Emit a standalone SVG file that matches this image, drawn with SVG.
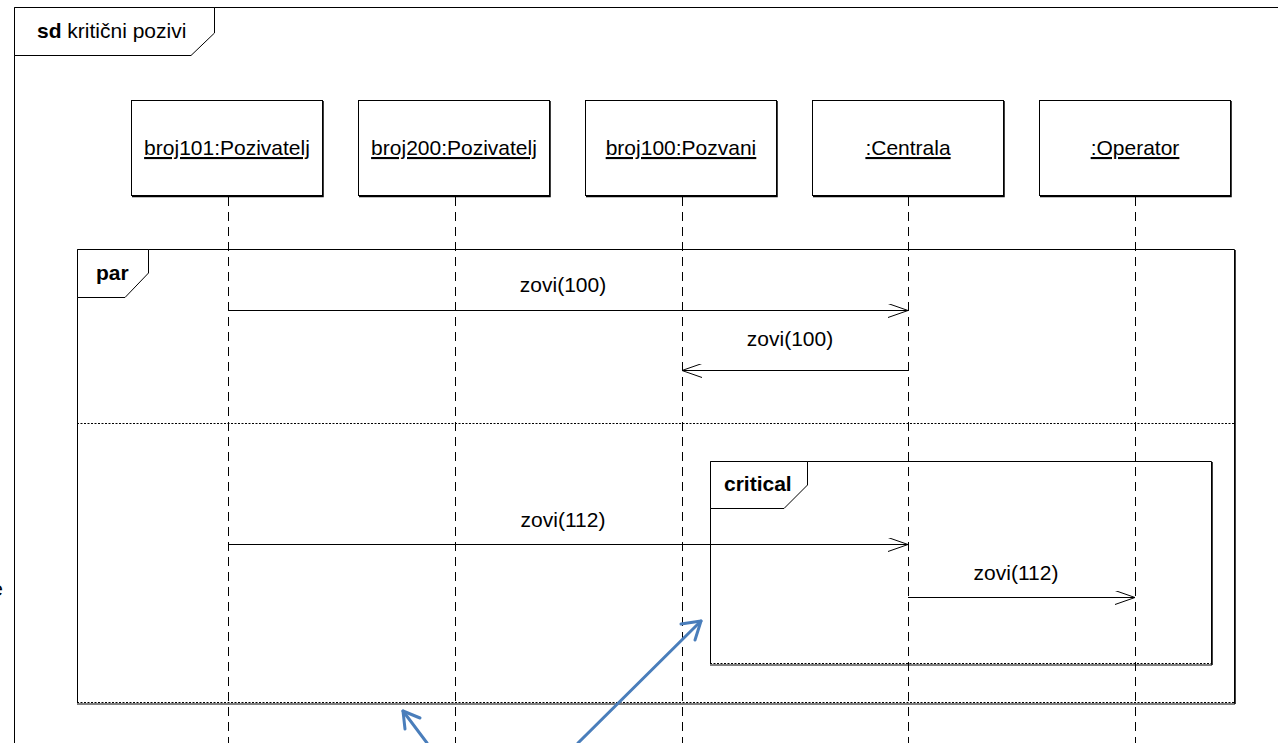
<svg xmlns="http://www.w3.org/2000/svg" width="1278" height="743" viewBox="0 0 1278 743">
  <style>
    text { font-family: "Liberation Sans", Arial, sans-serif; font-size: 21px; fill: #000; }
    .b { font-weight: bold; }
    .u { text-decoration: underline; }
    .frame { fill: none; stroke: #000; stroke-width: 1; }
    .tab { fill: #fff; stroke: #000; stroke-width: 1; }
    .box { fill: #fff; stroke: #000; stroke-width: 1; }
    .shadow { fill: none; stroke: #000; stroke-width: 1.5; }
    .life { stroke: #000; stroke-width: 1; stroke-dasharray: 9 6; fill: none; }
    .msg { stroke: #000; stroke-width: 1; fill: none; }
    .sep { stroke: #000; stroke-width: 1; stroke-dasharray: 2 1.5; fill: none; }
    .note { stroke: #4a7ebb; stroke-width: 3; fill: none; stroke-linecap: round; stroke-linejoin: round; }
  </style>
  <defs>
    <marker id="open" viewBox="0 0 20 14" refX="20" refY="7" markerWidth="20" markerHeight="14" markerUnits="userSpaceOnUse" orient="auto">
      <path d="M0,0 L20,7 L0,14" fill="none" stroke="#000" stroke-width="1"/>
    </marker>
  </defs>

  <rect width="1278" height="743" fill="#fff"/>

  <!-- sequence diagram frame -->
  <g id="frame-sd">
    <path class="frame" d="M14.5,743 V7.5 H1290"/>
    <path class="tab" d="M14.5,7.5 H214.5 V33 L191,55.5 H14.5 Z"/>
    <text x="37" y="38"><tspan class="b">sd</tspan> kritični pozivi</text>
  </g>

  <text x="3" y="596" text-anchor="end">e</text>

  <!-- lifelines -->
  <g id="lifelines">
    <line class="life" x1="228.5" y1="197" x2="228.5" y2="743"/>
    <line class="life" x1="455.5" y1="197" x2="455.5" y2="743"/>
    <line class="life" x1="682.5" y1="197" x2="682.5" y2="743"/>
    <line class="life" x1="908.5" y1="197" x2="908.5" y2="743"/>
    <line class="life" x1="1135.5" y1="197" x2="1135.5" y2="743"/>
  </g>

  <g id="obj-broj101">
    <rect class="box" x="131.5" y="100.5" width="191" height="95"/>
    <path class="shadow" d="M323,101 V196.5 H132"/>
    <text class="u" x="227" y="155" text-anchor="middle">broj101:Pozivatelj</text>
  </g>
  <g id="obj-broj200">
    <rect class="box" x="358.5" y="100.5" width="191" height="95"/>
    <path class="shadow" d="M550,101 V196.5 H359"/>
    <text class="u" x="454" y="155" text-anchor="middle">broj200:Pozivatelj</text>
  </g>
  <g id="obj-broj100">
    <rect class="box" x="585.5" y="100.5" width="191" height="95"/>
    <path class="shadow" d="M777,101 V196.5 H586"/>
    <text class="u" x="681" y="155" text-anchor="middle">broj100:Pozvani</text>
  </g>
  <g id="obj-centrala">
    <rect class="box" x="812.5" y="100.5" width="191" height="95"/>
    <path class="shadow" d="M1004,101 V196.5 H813"/>
    <text class="u" x="908" y="155" text-anchor="middle">:Centrala</text>
  </g>
  <g id="obj-operator">
    <rect class="box" x="1039.5" y="100.5" width="191" height="95"/>
    <path class="shadow" d="M1231,101 V196.5 H1040"/>
    <text class="u" x="1135" y="155" text-anchor="middle">:Operator</text>
  </g>

  <!-- par combined fragment -->
  <g id="frag-par">
    <path class="frame" d="M77.5,703 V249.5 H1234.5 V703"/>
    <path class="shadow" d="M1235,250 V704"/>
    <line class="sep" x1="77" y1="423.5" x2="1234" y2="423.5"/>
    <line class="sep" x1="77" y1="702.5" x2="1235" y2="702.5" stroke-width="2"/>
    <line x1="77" y1="704" x2="1235" y2="704" stroke="#000" stroke-width="1"/>
    <path class="tab" d="M77.5,249.5 H148.5 V273 L125,297.5 H77.5 Z"/>
    <text class="b" x="96" y="280">par</text>
  </g>

  <!-- critical combined fragment -->
  <g id="frag-critical">
    <path class="frame" d="M710.5,664 V461.5 H1211.5 V664"/>
    <path class="shadow" d="M1212,462 V665"/>
    <line class="sep" x1="710" y1="663.5" x2="1212" y2="663.5" stroke-width="2"/>
    <line x1="710" y1="665" x2="1212" y2="665" stroke="#000" stroke-width="1"/>
    <path class="tab" d="M710.5,461.5 H807.5 V485 L784,508.5 H710.5 Z"/>
    <text class="b" x="724" y="491">critical</text>
  </g>

  <!-- messages -->
  <g id="connectors">
    <line class="msg" x1="228" y1="310.5" x2="908" y2="310.5" marker-end="url(#open)"/>
    <text x="563" y="292" text-anchor="middle">zovi(100)</text>
    <line class="msg" x1="908" y1="370.5" x2="682" y2="370.5" marker-end="url(#open)"/>
    <text x="790" y="346" text-anchor="middle">zovi(100)</text>
    <line class="msg" x1="228" y1="544.5" x2="908" y2="544.5" marker-end="url(#open)"/>
    <text x="563" y="527" text-anchor="middle">zovi(112)</text>
    <line class="msg" x1="908" y1="597.5" x2="1135" y2="597.5" marker-end="url(#open)"/>
    <text x="1016" y="580" text-anchor="middle">zovi(112)</text>
  </g>

  <!-- annotation pointers -->
  <g id="pointers">
    <path class="note" d="M578,743 L701,621"/>
    <path class="note" d="M681,624 L701,621 L695,640"/>
    <path class="note" d="M427,743 L403,711"/>
    <path class="note" d="M403,711 L420,718 M403,711 L405,729"/>
  </g>
</svg>
